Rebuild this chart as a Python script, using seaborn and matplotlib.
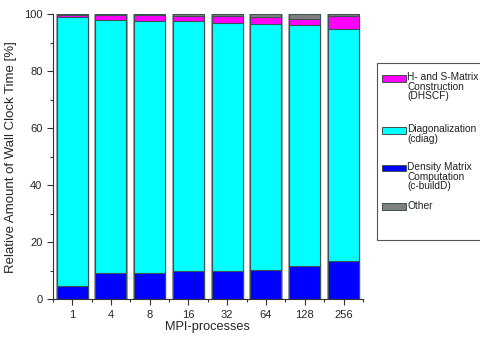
import matplotlib
matplotlib.use("Agg")
import matplotlib.pyplot as plt
import seaborn as sns
import numpy as np
from matplotlib.patches import Rectangle
from matplotlib.ticker import MultipleLocator, FixedLocator

# values (percent of wall clock time)
procs = ["1", "4", "8", "16", "32", "64", "128", "256"]
density = [4.5, 9.4, 9.4, 10.1, 9.9, 10.3, 11.6, 13.6]
diag = [94.4, 88.7, 88.4, 87.4, 87.2, 86.4, 84.5, 81.4]
hs_matrix = [0.9, 1.7, 1.9, 2.0, 2.2, 2.5, 2.3, 4.3]
other = [0.2, 0.2, 0.3, 0.5, 0.7, 0.8, 1.6, 0.7]

labels = ["H- and S-Matrix\nConstruction\n(DHSCF)", "Diagonalization\n(cdiag)",
          "Density Matrix\nComputation\n(c-buildD)", "Other"]
colors = ["#ff00ff", "#00ffff", "#0000ff", "#808080"]
edge = "#3a5252"

sns.set_style("ticks")
plt.rcParams["font.family"] = ["Liberation Sans", "DejaVu Sans"]

W, H = 480, 345
fig = plt.figure(figsize=(4.8, 3.45), dpi=100)
ax = fig.add_axes([0.110, 0.1325, 0.646, 0.826])

# stack by drawing cumulative totals from the top down
d = np.array(density)
c1 = d + np.array(diag)
c2 = c1 + np.array(hs_matrix)
c3 = c2 + np.array(other)
# light grey shadow behind each column
sns.barplot(x=procs, y=c3, color="#b0b0b0", saturation=1, width=0.86,
            linewidth=0, ax=ax)
for vals, col in [(c3, colors[3]), (c2, colors[0]), (c1, colors[1]), (d, colors[2])]:
    sns.barplot(x=procs, y=vals, color=col, saturation=1, width=0.8,
                edgecolor=edge, linewidth=0.8, ax=ax)

ax.set_xlim(-0.5, 7.5)
ax.set_ylim(0, 100)
ax.yaxis.set_major_locator(MultipleLocator(20))
ax.yaxis.set_minor_locator(MultipleLocator(10))
ax.xaxis.set_minor_locator(FixedLocator(np.arange(-0.5, 8, 1)))
ax.tick_params(axis="both", which="major", direction="out", length=4, width=0.8,
               labelsize=8, color="#333333")
ax.tick_params(axis="both", which="minor", direction="out", length=2.5, width=0.8, color="#333333")
sns.despine(ax=ax)
for s in ["left", "bottom"]:
    ax.spines[s].set_linewidth(0.8)
    ax.spines[s].set_color("#333333")

ax.set_xlabel("MPI-processes", fontsize=9.2, labelpad=1)
ax.set_ylabel("Relative Amount of Wall Clock Time [%]", fontsize=9.5, labelpad=5)


def to_fig(x, y):
    # pixel coords from the top-left corner -> figure fraction
    return x / W, 1 - y / H


# legend box drawn by hand, running off the right edge like the original
bx0, by0 = to_fig(377, 240)
bx1, by1 = to_fig(485, 63)
fig.patches.append(Rectangle((bx0, by0), bx1 - bx0, by1 - by0, transform=fig.transFigure,
                             facecolor="white", edgecolor="#555555", linewidth=0.8))
rows = [77.5, 130, 167.5, 206.5]
for lab, col, yc in zip(labels, colors, rows):
    hx, hy = to_fig(382, yc + 4)
    fig.patches.append(Rectangle((hx, hy), 24 / W, 7 / H, transform=fig.transFigure,
                                 facecolor=col, edgecolor=edge, linewidth=0.7))
    tx, ty = to_fig(407, yc - 5.5)
    fig.text(tx, ty, lab, fontsize=7.3, va="top", ha="left", linespacing=0.95,
             color="#222222")

fig.savefig("out.png", dpi=100)
